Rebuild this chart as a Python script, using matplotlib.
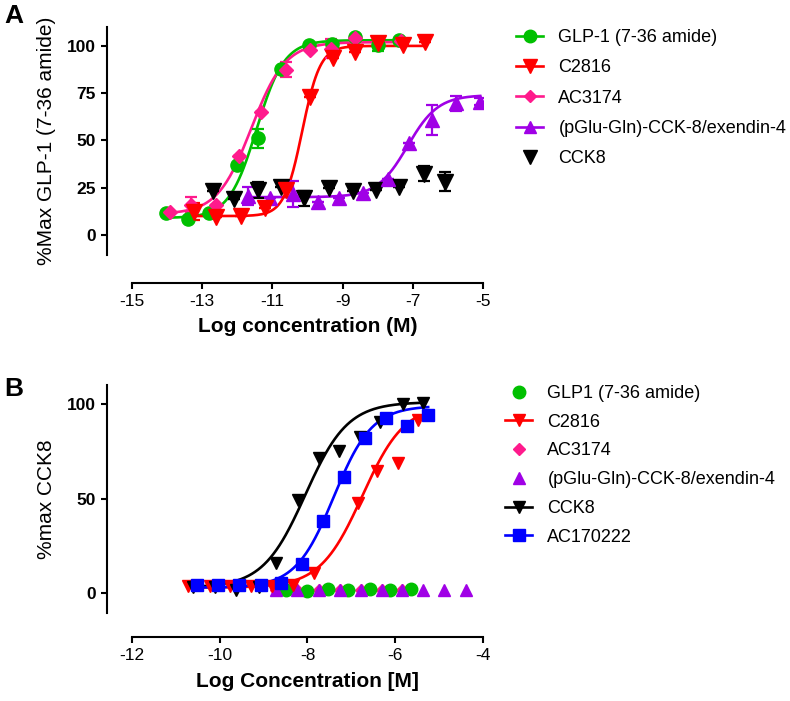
import numpy as np
import matplotlib
matplotlib.use("Agg")
import matplotlib.pyplot as plt
from matplotlib.lines import Line2D

plt.rcParams['font.family'] = ['Liberation Sans', 'DejaVu Sans']
plt.rcParams['axes.unicode_minus'] = False

# ---- panel A: GLP-1 receptor ----
a_glp1_x = [-14.02, -13.4, -12.8, -12.0, -11.42, -10.75, -9.96, -9.3, -8.66, -8.0, -7.38]
a_glp1_y = [11.5, 8.3, 11.6, 37.0, 51.1, 87.8, 100.5, 101.0, 104.9, 100.5, 103.0]
a_glp1_err = [0, 0, 0, 0, 5, 0, 0, 0, 0, 3, 0]

a_c2816_x = [-13.22, -12.6, -11.89, -11.2, -10.61, -9.94, -9.28, -8.66, -8.0, -7.29, -6.65]
a_c2816_y = [12.3, 9.7, 10.0, 14.1, 23.8, 73.2, 93.5, 97.0, 101.8, 100.5, 102.3]
a_c2816_err = [4.5, 0, 0, 0, 0, 0, 0, 0, 0, 0, 0]

a_ac3174_x = [-13.93, -13.31, -12.6, -11.94, -11.32, -10.61, -9.94, -9.33, -8.66, -7.34]
a_ac3174_y = [12.3, 15.9, 15.9, 41.8, 65.3, 87.3, 97.9, 98.4, 104.0, 102.8]
a_ac3174_err = [0, 4, 0, 0, 0, 4, 0, 5, 0, 0]

a_pglu_x = [-11.7, -11.08, -10.42, -9.71, -9.11, -8.41, -7.72, -7.1, -6.44, -5.77, -5.08]
a_pglu_y = [20.6, 19.4, 21.7, 17.6, 19.4, 22.0, 29.5, 48.8, 60.8, 69.7, 70.5]
a_pglu_err = [5, 0, 7, 0, 0, 0, 0, 0, 8, 4, 2]

a_cck8_x = [-12.7, -12.08, -11.41, -10.75, -10.09, -9.38, -8.71, -8.05, -7.38, -6.67, -6.08]
a_cck8_y = [23.4, 18.9, 23.8, 25.6, 19.4, 24.7, 23.4, 23.8, 25.6, 32.3, 28.2]
a_cck8_err = [0, 0, 4, 0, 4, 0, 0, 0, 0, 4, 5]

# fitted curves: bottom, top, logEC50, hill
a_glp1_fit = [9, 103, -11.45, 1.1]
a_c2816_fit = [10, 100, -10.15, 1.7]
a_ac3174_fit = [11, 102, -11.6, 0.9]
a_pglu_fit = [20, 74, -7.15, 1.0]

# ---- panel B: CCK1 receptor ----
b_glp1_x = [-8.48, -8.02, -7.53, -7.07, -6.58, -6.12, -5.63]
b_glp1_y = [2.0, 1.0, 2.5, 2.0, 2.5, 2.0, 2.5]

b_c2816_x = [-10.72, -10.23, -9.76, -9.28, -8.8, -8.33, -7.86, -6.85, -6.41, -5.93, -5.48]
b_c2816_y = [3.9, 3.9, 3.9, 3.9, 3.9, 4.5, 10.9, 47.9, 64.6, 68.7, 91.5]

b_ac3174_x = [-8.71, -8.23, -7.74, -7.26, -6.79, -6.31, -5.84]
b_ac3174_y = [1.5, 1.5, 1.5, 1.5, 1.5, 1.5, 1.5]

b_pglu_x = [-8.71, -8.23, -7.74, -7.26, -6.79, -6.31, -5.84, -5.36, -4.89, -4.39]
b_pglu_y = [1.7, 1.7, 1.7, 1.7, 1.7, 1.7, 1.7, 1.7, 1.7, 1.7]

b_cck8_x = [-10.6, -10.1, -9.62, -9.1, -8.71, -8.21, -7.74, -7.28, -6.81, -6.34, -5.82, -5.36]
b_cck8_y = [3.5, 3.5, 1.7, 3.5, 16.2, 49.3, 71.3, 75.2, 82.7, 90.7, 100.0, 100.4]

b_ac170222_x = [-10.52, -10.04, -9.56, -9.07, -8.61, -8.12, -7.64, -7.17, -6.69, -6.21, -5.73, -5.25]
b_ac170222_y = [4.4, 4.4, 4.4, 4.4, 5.6, 15.3, 38.2, 61.6, 81.9, 92.8, 88.5, 94.2]

b_c2816_fit = [3, 100, -6.75, 0.9]
b_cck8_fit = [3, 101, -8.05, 0.9]
b_ac170222_fit = [3, 99, -7.4, 1.0]

GREEN = '#00c000'
RED = '#ff0000'
PINK = '#ff1a8c'
PURPLE = '#a000e6'
BLACK = '#000000'
BLUE = '#0000ff'


def four_pl(x, bottom, top, logec50, hill):
    return bottom + (top - bottom) / (1 + 10 ** ((logec50 - x) * hill))


def draw_curve(ax, xs, fit, color):
    xx = np.linspace(min(xs), max(xs), 300)
    ax.plot(xx, four_pl(xx, *fit), color=color, lw=1.9, zorder=2)


def draw_points(ax, xs, ys, err, color, marker, ms, z=3):
    ax.errorbar(xs, ys, yerr=err, fmt=marker, color=color, ms=ms,
                capsize=4.5, elinewidth=1.6, capthick=1.6, zorder=z)


def style_axes(ax, xlim, ylim, xticks, yticks):
    ax.set_xlim(*xlim)
    ax.set_ylim(*ylim)
    ax.set_xticks(xticks)
    ax.set_yticks(yticks)
    for s in ['top', 'right']:
        ax.spines[s].set_visible(False)
    for s in ['left', 'bottom']:
        ax.spines[s].set_linewidth(1.5)
    ax.spines['left'].set_position(('outward', 18))
    ax.spines['bottom'].set_position(('outward', 20))
    ax.tick_params(width=1.5, length=4.5, labelsize=12.5)
    for lab in ax.get_xticklabels() + ax.get_yticklabels():
        lab.set_fontweight('bold')


W, H = 790, 701
fig = plt.figure(figsize=(W / 100, H / 100), dpi=100)

# panel A
axA = fig.add_axes([132 / W, 1 - 255 / H, 351 / W, 228 / H])
style_axes(axA, (-15, -5), (-10.6, 110), np.arange(-15, -4, 2), [0, 25, 50, 75, 100])
axA.spines['bottom'].set_position(('outward', 20))

draw_curve(axA, a_pglu_x, a_pglu_fit, PURPLE)
draw_curve(axA, a_glp1_x, a_glp1_fit, GREEN)
draw_curve(axA, a_ac3174_x, a_ac3174_fit, PINK)
draw_curve(axA, a_c2816_x, a_c2816_fit, RED)
draw_points(axA, a_cck8_x, a_cck8_y, a_cck8_err, BLACK, 'v', 11)
draw_points(axA, a_pglu_x, a_pglu_y, a_pglu_err, PURPLE, '^', 10)
draw_points(axA, a_glp1_x, a_glp1_y, a_glp1_err, GREEN, 'o', 9.5)
draw_points(axA, a_ac3174_x, a_ac3174_y, a_ac3174_err, PINK, 'D', 7)
draw_points(axA, a_c2816_x, a_c2816_y, a_c2816_err, RED, 'v', 11)

axA.set_xlabel('Log concentration (M)', fontsize=15, fontweight='bold', labelpad=6)
axA.set_ylabel('%Max GLP-1 (7-36 amide)', fontsize=15, labelpad=8)

handlesA = [
    Line2D([], [], color=GREEN, marker='o', ms=9, lw=1.9),
    Line2D([], [], color=RED, marker='v', ms=10, lw=1.9),
    Line2D([], [], color=PINK, marker='D', ms=6.5, lw=1.9),
    Line2D([], [], color=PURPLE, marker='^', ms=9, lw=1.9),
    Line2D([], [], color=BLACK, marker='v', ms=10, lw=0),
]
labelsA = ['GLP-1 (7-36 amide)', 'C2816', 'AC3174', '(pGlu-Gln)-CCK-8/exendin-4', 'CCK8']
fig.legend(handlesA, labelsA, loc='upper left', bbox_to_anchor=(516 / W, 1 - 29 / H),
           frameon=False, fontsize=13, handlelength=1.5, handletextpad=0.85,
           labelspacing=0.74, borderpad=0, borderaxespad=0)

# panel B
axB = fig.add_axes([132 / W, 1 - 613 / H, 351 / W, 228 / H])
style_axes(axB, (-12, -4), (-10.4, 110), np.arange(-12, -3, 2), [0, 50, 100])
axB.spines['bottom'].set_position(('outward', 17.5))

draw_curve(axB, b_c2816_x, b_c2816_fit, RED)
draw_curve(axB, b_cck8_x, b_cck8_fit, BLACK)
draw_curve(axB, b_ac170222_x, b_ac170222_fit, BLUE)
axB.plot(b_ac3174_x, b_ac3174_y, 'D', color=PINK, ms=6.5, zorder=3)
axB.plot(b_glp1_x, b_glp1_y, 'o', color=GREEN, ms=9, zorder=3)
axB.plot(b_pglu_x, b_pglu_y, '^', color=PURPLE, ms=8.5, zorder=3)
axB.plot(b_c2816_x, b_c2816_y, 'v', color=RED, ms=9, zorder=3)
axB.plot(b_cck8_x, b_cck8_y, 'v', color=BLACK, ms=9, zorder=3)
axB.plot(b_ac170222_x, b_ac170222_y, 's', color=BLUE, ms=9, zorder=3)

axB.set_xlabel('Log Concentration [M]', fontsize=15, fontweight='bold', labelpad=6)
axB.set_ylabel('%max CCK8', fontsize=15, labelpad=8)

handlesB = [
    Line2D([], [], color=GREEN, marker='o', ms=9, lw=0),
    Line2D([], [], color=RED, marker='v', ms=9, lw=1.9),
    Line2D([], [], color=PINK, marker='D', ms=6.5, lw=0),
    Line2D([], [], color=PURPLE, marker='^', ms=8.5, lw=0),
    Line2D([], [], color=BLACK, marker='v', ms=9, lw=1.9),
    Line2D([], [], color=BLUE, marker='s', ms=9, lw=1.9),
]
labelsB = ['GLP1 (7-36 amide)', 'C2816', 'AC3174', '(pGlu-Gln)-CCK-8/exendin-4', 'CCK8', 'AC170222']
fig.legend(handlesB, labelsB, loc='upper left', bbox_to_anchor=(505 / W, 1 - 385 / H),
           frameon=False, fontsize=13, handlelength=1.5, handletextpad=0.85,
           labelspacing=0.65, borderpad=0, borderaxespad=0)

fig.text(4 / W, 1 - 4 / H, 'A', fontsize=19, fontweight='bold', va='top', ha='left')
fig.text(4 / W, 1 - 377 / H, 'B', fontsize=19, fontweight='bold', va='top', ha='left')

fig.savefig('out.png', dpi=100)
